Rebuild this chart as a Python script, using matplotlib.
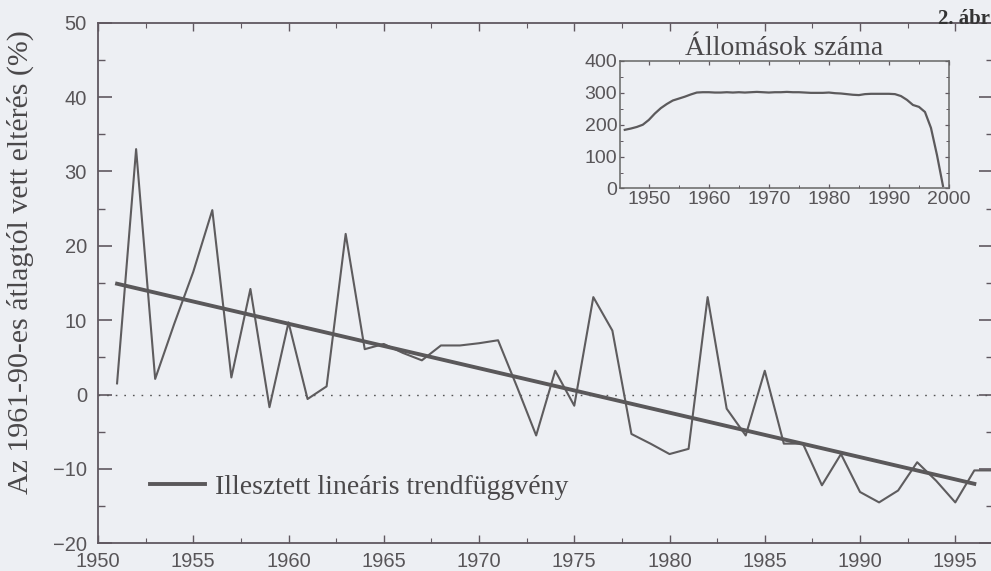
"""Station-count anomaly vs the 1961-90 mean, with a fitted linear trend and station-count inset."""
import matplotlib
matplotlib.use("Agg")
import matplotlib.pyplot as plt
from matplotlib.ticker import MultipleLocator

# main series: deviation from 1961-90 mean (%)
years = list(range(1951, 1998))
deviation = [1.5, 33.0, 2.1, 9.5, 16.5, 24.8, 2.3, 14.2, -1.7, 9.7,
             -0.6, 1.1, 21.6, 6.1, 6.8, 5.6, 4.6, 6.6, 6.6, 6.9,
             7.3, 1.0, -5.5, 3.2, -1.5, 13.1, 8.6, -5.3, -6.6, -8.0,
             -7.3, 13.1, -1.9, -5.5, 3.2, -6.6, -6.6, -12.2, -8.0, -13.1,
             -14.5, -12.9, -9.1, -11.6, -14.5, -10.2, -10.2]

# fitted linear trend, end points
trend_years = [1951, 1996]
trend_vals = [14.9, -12.0]

# inset: number of stations
st_years = list(range(1946, 2000))
st_count = [184, 188, 193, 200, 215, 235, 252, 265, 276, 282,
            288, 295, 301, 302, 302, 301, 301, 302, 301, 302,
            301, 302, 303, 302, 301, 302, 302, 303, 302, 302,
            301, 300, 300, 300, 301, 299, 298, 296, 294, 293,
            296, 297, 297, 297, 297, 296, 290, 278, 262, 256,
            240, 190, 105, 8]

BG = "#edeff3"
INK = "#585558"
SPINE = "#605860"
SERIF = "Liberation Serif"
SANS = "Liberation Sans"

fig = plt.figure(figsize=(9.91, 5.71), dpi=100, facecolor=BG)
ax = fig.add_axes([0.0989, 0.0485, 0.9035, 0.9118], facecolor=BG)

ax.plot(years, deviation, color="#5e5c5e", lw=1.5, zorder=3)
ax.plot(trend_years, trend_vals, color="#5a585a", lw=2.8, zorder=4,
        label="Illesztett lineáris trendfüggvény")
ax.axhline(0, color="#555", lw=1.0, ls=(0, (1.2, 5)), zorder=2)

ax.set_xlim(1950, 1997)
ax.set_ylim(-20, 50)
ax.xaxis.set_major_locator(MultipleLocator(5))
ax.xaxis.set_minor_locator(MultipleLocator(2.5))
ax.yaxis.set_major_locator(MultipleLocator(10))
ax.yaxis.set_minor_locator(MultipleLocator(5))
ax.tick_params(axis="both", which="both", direction="in", top=True, right=True,
               color=SPINE, labelcolor=INK)
ax.tick_params(axis="y", which="major", length=10, width=1.2, pad=8, labelsize=14.5)
ax.tick_params(axis="y", which="minor", length=5, width=1.0)
ax.tick_params(axis="x", which="major", length=6, width=1.0, pad=6, labelsize=14.5)
ax.tick_params(axis="x", which="minor", length=3.5, width=0.8)
for lab in ax.get_xticklabels() + ax.get_yticklabels():
    lab.set_fontfamily(SANS)
for s in ax.spines.values():
    s.set_color(SPINE)
    s.set_linewidth(1.3)

ax.set_ylabel("Az 1961-90-es átlagtól vett eltérés (%)", family=SERIF,
              fontsize=21.5, color="#4a484a")
ax.yaxis.set_label_coords(-0.071, 0.54)

leg = ax.legend(loc="lower left", bbox_to_anchor=(0.03, 0.035), frameon=False,
                handlelength=2.0, handletextpad=0.35,
                prop={"family": SERIF, "size": 20})
for t in leg.get_texts():
    t.set_color("#4a484a")

# figure number, only the part visible in the scan
fig.text(0.999, 0.985, "2. ábr", family=SERIF, fontweight="bold",
         fontsize=15, color="#333", ha="right", va="top")

# inset
ins = fig.add_axes([0.6256, 0.6699, 0.3320, 0.2233], facecolor=BG)
ins.plot(st_years, st_count, color="#5c5a5c", lw=1.6)
ins.set_xlim(1945.2, 2000)
ins.set_ylim(0, 400)
ins.xaxis.set_major_locator(MultipleLocator(10))
ins.xaxis.set_minor_locator(MultipleLocator(5))
ins.yaxis.set_major_locator(MultipleLocator(100))
ins.yaxis.set_minor_locator(MultipleLocator(50))
ins.tick_params(axis="both", which="both", direction="in", top=True, right=True,
                color=SPINE, labelcolor=INK, labelsize=14)
ins.tick_params(axis="both", which="major", length=3, width=0.9, pad=2)
ins.tick_params(axis="both", which="minor", length=2, width=0.7)
for lab in ins.get_xticklabels() + ins.get_yticklabels():
    lab.set_fontfamily(SANS)
for s in ins.spines.values():
    s.set_color("#666")
    s.set_linewidth(1.1)
ins.set_title("Állomások száma", family=SERIF, fontsize=20,
              color="#4a484a", pad=2)

fig.savefig("out.png", dpi=100, facecolor=BG)
